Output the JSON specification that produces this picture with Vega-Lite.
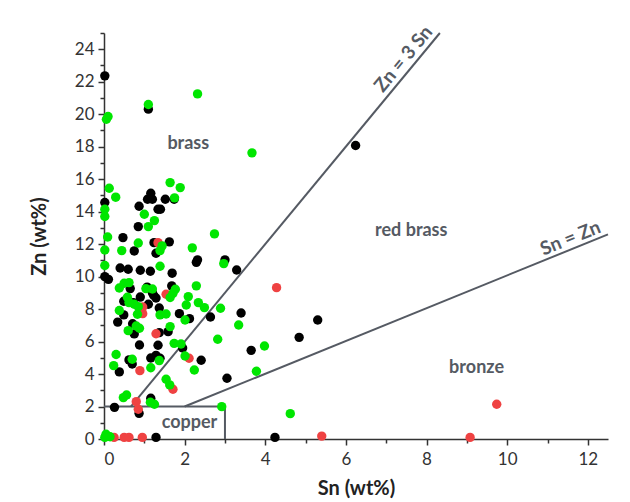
{
  "$schema": "https://vega.github.io/schema/vega-lite/v6.json",
  "width": 504,
  "height": 406,
  "autosize": {"type": "none"},
  "padding": {"left": 104, "top": 33, "right": 22, "bottom": 63},
  "background": "white",
  "config": {
    "view": {"stroke": null},
    "font": "Lato",
    "axis": {
      "domainColor": "#333333",
      "domainWidth": 1.5,
      "tickColor": "#333333",
      "tickWidth": 1.5,
      "labelColor": "#333333",
      "labelFont": "Lato",
      "labelFontSize": 17,
      "titleFont": "Lato",
      "titleFontSize": 20,
      "titleFontWeight": "bold",
      "titleColor": "#222222",
      "grid": false
    }
  },
  "datasets": {
    "pts": [
      {"x": 0.02, "y": 22.36, "g": "b"}, {"x": 1.10, "y": 20.31, "g": "b"}, {"x": 6.24, "y": 18.07, "g": "b"},
      {"x": 0.02, "y": 14.56, "g": "b"}, {"x": 1.16, "y": 15.13, "g": "b"}, {"x": 1.08, "y": 14.76, "g": "b"},
      {"x": 1.20, "y": 14.76, "g": "b"}, {"x": 1.52, "y": 14.76, "g": "b"}, {"x": 1.74, "y": 14.76, "g": "b"},
      {"x": 0.87, "y": 14.33, "g": "b"}, {"x": 1.34, "y": 14.15, "g": "b"}, {"x": 1.40, "y": 14.15, "g": "b"},
      {"x": 0.85, "y": 13.08, "g": "b"}, {"x": 0.47, "y": 12.40, "g": "b"}, {"x": 1.24, "y": 12.09, "g": "b"},
      {"x": 1.62, "y": 12.14, "g": "b"}, {"x": 0.75, "y": 11.58, "g": "b"}, {"x": 1.29, "y": 11.44, "g": "b"},
      {"x": 2.29, "y": 10.88, "g": "b"}, {"x": 2.32, "y": 11.03, "g": "b"}, {"x": 3.00, "y": 11.03, "g": "b"},
      {"x": 3.29, "y": 10.41, "g": "b"}, {"x": 0.40, "y": 10.53, "g": "b"}, {"x": 0.60, "y": 10.45, "g": "b"},
      {"x": 0.90, "y": 10.39, "g": "b"}, {"x": 1.15, "y": 10.33, "g": "b"}, {"x": 1.69, "y": 10.21, "g": "b"},
      {"x": 0.02, "y": 10.00, "g": "b"}, {"x": 0.11, "y": 9.83, "g": "b"}, {"x": 1.07, "y": 9.35, "g": "b"},
      {"x": 1.68, "y": 9.43, "g": "b"}, {"x": 0.65, "y": 9.26, "g": "b"}, {"x": 1.20, "y": 9.01, "g": "b"},
      {"x": 1.23, "y": 8.85, "g": "b"}, {"x": 1.29, "y": 8.68, "g": "b"}, {"x": 0.90, "y": 8.74, "g": "b"},
      {"x": 0.49, "y": 8.48, "g": "b"}, {"x": 0.73, "y": 8.40, "g": "b"}, {"x": 1.37, "y": 8.07, "g": "b"},
      {"x": 1.10, "y": 8.30, "g": "b"}, {"x": 3.40, "y": 7.76, "g": "b"}, {"x": 1.87, "y": 7.72, "g": "b"},
      {"x": 2.12, "y": 7.41, "g": "b"}, {"x": 0.49, "y": 7.64, "g": "b"}, {"x": 0.34, "y": 7.20, "g": "b"},
      {"x": 0.71, "y": 7.10, "g": "b"}, {"x": 2.64, "y": 7.51, "g": "b"}, {"x": 5.30, "y": 7.33, "g": "b"},
      {"x": 0.75, "y": 6.47, "g": "b"}, {"x": 1.59, "y": 6.61, "g": "b"}, {"x": 1.37, "y": 6.55, "g": "b"},
      {"x": 4.84, "y": 6.26, "g": "b"}, {"x": 0.88, "y": 5.79, "g": "b"}, {"x": 1.34, "y": 5.77, "g": "b"},
      {"x": 1.95, "y": 5.60, "g": "b"}, {"x": 3.65, "y": 5.46, "g": "b"}, {"x": 1.16, "y": 4.99, "g": "b"},
      {"x": 1.29, "y": 5.15, "g": "b"}, {"x": 1.39, "y": 4.97, "g": "b"}, {"x": 0.62, "y": 4.87, "g": "b"},
      {"x": 0.70, "y": 4.62, "g": "b"}, {"x": 2.41, "y": 4.85, "g": "b"}, {"x": 0.38, "y": 4.13, "g": "b"},
      {"x": 3.05, "y": 3.74, "g": "b"}, {"x": 1.16, "y": 2.51, "g": "b"}, {"x": 0.26, "y": 1.95, "g": "b"},
      {"x": 0.87, "y": 1.58, "g": "b"}, {"x": 1.29, "y": 0.10, "g": "b"}, {"x": 4.24, "y": 0.10, "g": "b"},

      {"x": 4.28, "y": 9.32, "g": "r"}, {"x": 1.34, "y": 12.09, "g": "r"}, {"x": 1.54, "y": 8.91, "g": "r"},
      {"x": 0.96, "y": 8.13, "g": "r"}, {"x": 0.96, "y": 7.72, "g": "r"}, {"x": 1.29, "y": 6.48, "g": "r"},
      {"x": 2.11, "y": 4.97, "g": "r"}, {"x": 0.89, "y": 4.21, "g": "r"}, {"x": 1.71, "y": 3.06, "g": "r"},
      {"x": 0.80, "y": 2.30, "g": "r"}, {"x": 0.85, "y": 1.83, "g": "r"}, {"x": 9.74, "y": 2.14, "g": "r"},
      {"x": 0.25, "y": 0.10, "g": "r"}, {"x": 0.50, "y": 0.10, "g": "r"}, {"x": 0.62, "y": 0.10, "g": "r"},
      {"x": 0.95, "y": 0.10, "g": "r"}, {"x": 5.40, "y": 0.18, "g": "r"}, {"x": 9.08, "y": 0.10, "g": "r"},

      {"x": 2.32, "y": 21.25, "g": "g"}, {"x": 1.10, "y": 20.60, "g": "g"}, {"x": 0.10, "y": 19.86, "g": "g"},
      {"x": 0.06, "y": 19.69, "g": "g"}, {"x": 3.67, "y": 17.62, "g": "g"}, {"x": 0.13, "y": 15.44, "g": "g"},
      {"x": 0.29, "y": 14.89, "g": "g"}, {"x": 1.64, "y": 15.79, "g": "g"}, {"x": 1.89, "y": 15.48, "g": "g"},
      {"x": 1.75, "y": 14.85, "g": "g"}, {"x": 0.02, "y": 14.15, "g": "g"}, {"x": 0.02, "y": 13.70, "g": "g"},
      {"x": 1.00, "y": 13.84, "g": "g"}, {"x": 1.25, "y": 13.45, "g": "g"}, {"x": 1.10, "y": 13.08, "g": "g"},
      {"x": 2.74, "y": 12.63, "g": "g"}, {"x": 0.09, "y": 12.44, "g": "g"}, {"x": 0.85, "y": 12.07, "g": "g"},
      {"x": 1.44, "y": 11.89, "g": "g"}, {"x": 2.19, "y": 11.77, "g": "g"}, {"x": 0.44, "y": 11.60, "g": "g"},
      {"x": 0.02, "y": 11.64, "g": "g"}, {"x": 1.39, "y": 11.60, "g": "g"}, {"x": 2.97, "y": 10.80, "g": "g"},
      {"x": 1.39, "y": 10.64, "g": "g"}, {"x": 0.02, "y": 10.68, "g": "g"}, {"x": 2.29, "y": 9.43, "g": "g"},
      {"x": 0.38, "y": 9.30, "g": "g"}, {"x": 0.62, "y": 9.63, "g": "g"}, {"x": 0.50, "y": 9.59, "g": "g"},
      {"x": 1.04, "y": 9.26, "g": "g"}, {"x": 1.20, "y": 9.24, "g": "g"}, {"x": 1.77, "y": 9.22, "g": "g"},
      {"x": 1.71, "y": 8.97, "g": "g"}, {"x": 1.64, "y": 8.71, "g": "g"}, {"x": 2.09, "y": 8.77, "g": "g"},
      {"x": 0.58, "y": 8.73, "g": "g"}, {"x": 0.62, "y": 8.40, "g": "g"}, {"x": 0.75, "y": 8.30, "g": "g"},
      {"x": 0.85, "y": 8.15, "g": "g"}, {"x": 0.83, "y": 7.68, "g": "g"}, {"x": 2.04, "y": 8.25, "g": "g"},
      {"x": 2.34, "y": 8.40, "g": "g"}, {"x": 2.49, "y": 8.09, "g": "g"}, {"x": 2.89, "y": 8.05, "g": "g"},
      {"x": 0.38, "y": 7.91, "g": "g"}, {"x": 1.39, "y": 7.64, "g": "g"}, {"x": 1.54, "y": 7.70, "g": "g"},
      {"x": 2.01, "y": 7.33, "g": "g"}, {"x": 3.34, "y": 7.02, "g": "g"}, {"x": 1.64, "y": 6.92, "g": "g"},
      {"x": 0.80, "y": 6.96, "g": "g"}, {"x": 0.88, "y": 6.82, "g": "g"}, {"x": 0.60, "y": 6.67, "g": "g"},
      {"x": 2.82, "y": 6.14, "g": "g"}, {"x": 1.74, "y": 5.89, "g": "g"}, {"x": 1.91, "y": 5.85, "g": "g"},
      {"x": 3.98, "y": 5.73, "g": "g"}, {"x": 0.30, "y": 5.20, "g": "g"}, {"x": 2.01, "y": 5.11, "g": "g"},
      {"x": 0.70, "y": 4.91, "g": "g"}, {"x": 1.37, "y": 4.83, "g": "g"}, {"x": 0.24, "y": 4.52, "g": "g"},
      {"x": 1.16, "y": 4.39, "g": "g"}, {"x": 2.24, "y": 4.25, "g": "g"}, {"x": 3.78, "y": 4.17, "g": "g"},
      {"x": 1.54, "y": 3.68, "g": "g"}, {"x": 1.63, "y": 3.33, "g": "g"}, {"x": 0.56, "y": 2.71, "g": "g"},
      {"x": 0.48, "y": 2.55, "g": "g"}, {"x": 1.15, "y": 2.26, "g": "g"}, {"x": 1.25, "y": 2.14, "g": "g"},
      {"x": 2.92, "y": 1.99, "g": "g"}, {"x": 4.62, "y": 1.56, "g": "g"}, {"x": 0.05, "y": 0.29, "g": "g"},
      {"x": 0.15, "y": 0.14, "g": "g"}, {"x": 0.02, "y": 0.10, "g": "g"}
    ],
    "lines": [
      {"seg": "a", "o": 1, "x": 0.667, "y": 2},
      {"seg": "a", "o": 2, "x": 8.33, "y": 25},
      {"seg": "b", "o": 1, "x": 2, "y": 2},
      {"seg": "b", "o": 2, "x": 12.5, "y": 12.6},
      {"seg": "c", "o": 1, "x": 0, "y": 2},
      {"seg": "c", "o": 2, "x": 3, "y": 2},
      {"seg": "c", "o": 3, "x": 3, "y": 0}
    ],
    "labels": [
      {"t": "brass", "x": 2.09, "y": 18.15, "a": 0, "s": 18},
      {"t": "red brass", "x": 7.62, "y": 12.83, "a": 0, "s": 18},
      {"t": "bronze", "x": 9.24, "y": 4.35, "a": 0, "s": 18},
      {"t": "copper", "x": 2.12, "y": 1.0, "a": 0, "s": 18},
      {"t": "Zn = 3 Sn", "x": 7.43, "y": 23.4, "a": 309.6, "s": 19},
      {"t": "Sn = Zn", "x": 11.57, "y": 12.36, "a": 338, "s": 19}
    ]
  },
  "encoding": {
    "x": {"field": "x", "type": "quantitative", "scale": {"domain": [0, 12.5], "nice": false},
      "axis": {"title": "Sn (wt%)", "values": [0,1,2,3,4,5,6,7,8,9,10,11,12], "labelExpr": "datum.value % 2 === 0 ? datum.label : ''",
        "labelOverlap": false,
        "tickSize": {"condition": {"test": "datum.value % 2 === 0", "value": 6}, "value": 4},
        "labelPadding": 6, "titlePadding": 11}},
    "y": {"field": "y", "type": "quantitative", "scale": {"domain": [0, 25], "nice": false},
      "axis": {"title": "Zn (wt%)", "values": [0,1,2,3,4,5,6,7,8,9,10,11,12,13,14,15,16,17,18,19,20,21,22,23,24,25], "labelExpr": "datum.value % 2 === 0 ? datum.label : ''",
        "labelOverlap": false,
        "tickSize": {"condition": {"test": "datum.value % 2 === 0", "value": 6}, "value": 4},
        "labelPadding": 4, "titlePadding": 25}}
  },
  "layer": [
    {
      "data": {"name": "lines"},
      "mark": {"type": "line", "color": "#555a63", "strokeWidth": 2},
      "encoding": {
        "detail": {"field": "seg"},
        "order": {"field": "o"}
      }
    },
    {
      "data": {"name": "pts"},
      "mark": {"type": "circle", "size": 88, "opacity": 1},
      "encoding": {
        "color": {"field": "g", "type": "nominal", "scale": {"domain": ["b", "r", "g"], "range": ["#000000", "#ef4242", "#00e600"]}, "legend": null}
      }
    },
    {
      "data": {"name": "labels"},
      "mark": {"type": "text", "color": "#555a63", "font": "Lato", "fontWeight": "bold", "align": "center", "baseline": "middle"},
      "encoding": {
        "text": {"field": "t"},
        "angle": {"field": "a", "type": "quantitative", "scale": null},
        "size": {"field": "s", "type": "quantitative", "scale": null}
      }
    }
  ]
}
